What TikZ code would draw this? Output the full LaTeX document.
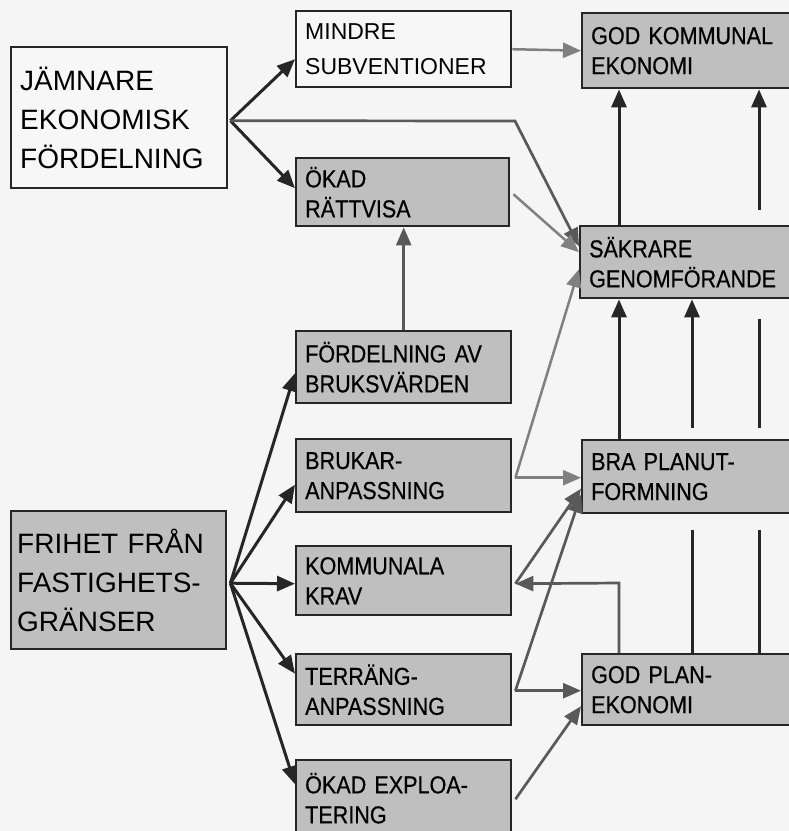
\documentclass[tikz,border=0pt]{standalone}
\usepackage{fontspec}
\setmainfont{Liberation Sans}
\newfontfamily\condfont[FakeStretch=0.88,FakeBold=0.5]{Liberation Sans}
\usetikzlibrary{arrows.meta,calc}
\begin{document}
\begin{tikzpicture}[x=1pt,y=-1pt,
  basebox/.style={draw=black!85, line width=2.4pt, anchor=north west, align=left,
                  inner xsep=9pt, inner ysep=0pt},
  plainbox/.style={basebox, fill=black!3},
  shadebox/.style={basebox, fill=black!25},
  smalltext/.style={font=\fontsize{23}{35}\selectfont, text width=197pt},
  condtext/.style={font=\condfont\fontsize{24.5}{30}\selectfont, text width=197pt},
  largetext/.style={font=\fontsize{28}{39}\selectfont},
  link/.style={line width=3pt, draw=black!85, -{Triangle[length=18pt,width=15pt]}},
  midlink/.style={link, line width=2.7pt, draw=black!65},
  lightlink/.style={link, line width=2.5pt, draw=black!50},
  bare/.style={line width=3pt, draw=black!85}
]
\clip (0,0) rectangle (789,831);
\fill[black!4] (0,0) rectangle (789,831);

% boxes
\node[plainbox, largetext, text width=198pt, minimum height=141pt] (jam) at (10,46)
  {JÄMNARE\\EKONOMISK\\FÖRDELNING};
\node[plainbox, smalltext, minimum height=76pt] (mindre) at (295,10) {MINDRE\\SUBVENTIONER};
\node[shadebox, condtext, text width=210pt, minimum height=75pt] (godk) at (581,12) {GOD KOMMUNAL\\EKONOMI};
\node[shadebox, condtext, text width=195pt, minimum height=68pt] (okad) at (295,157) {ÖKAD\\RÄTTVISA};
\node[shadebox, condtext, text width=210pt, minimum height=72pt] (sakr) at (579,225) {SÄKRARE\\GENOMFÖRANDE};
\node[shadebox, condtext, minimum height=72pt] (ford) at (295,330) {FÖRDELNING AV\\BRUKSVÄRDEN};
\node[shadebox, condtext, minimum height=73pt] (bruk) at (295,438) {BRUKAR-\\ANPASSNING};
\node[shadebox, condtext, text width=210pt, minimum height=73pt] (bra) at (581,439) {BRA PLANUT-\\FORMNING};
\node[shadebox, largetext, text width=203pt, inner xsep=6pt, minimum height=138pt] (frihet) at (10,510)
  {FRIHET FRÅN\\FASTIGHETS-\\GRÄNSER};
\node[shadebox, condtext, minimum height=69pt] (komm) at (295,545) {KOMMUNALA\\KRAV};
\node[shadebox, condtext, minimum height=71pt] (terr) at (295,653) {TERRÄNG-\\ANPASSNING};
\node[shadebox, condtext, text width=210pt, minimum height=71pt] (godp) at (581,653) {GOD PLAN-\\EKONOMI};
\node[shadebox, condtext, minimum height=76pt] (expl) at (295,759) {ÖKAD EXPLOA-\\TERING};

% junctions and columns
\coordinate (jj) at ($(jam.east)+(2,3)$);
\coordinate (bend) at (515,121);
\coordinate (fj) at ($(frihet.east)+(3,3)$);
\coordinate (bj) at ($(bruk.east)+(3,2)$);
\coordinate (tj) at ($(terr.east)+(3,1)$);
\coordinate (kj) at ($(komm.east)+(3,3)$);
\coordinate (colA) at (619,0);
\coordinate (colB) at (692,0);
\coordinate (colC) at (759,0);
\coordinate (ret) at (617,583);

% upper left group
\draw[link] (jj) -- ($(mindre.west)+(0,10)$);
\draw[link] (jj) -- ($(okad.west)+(0,-4)$);
\draw[midlink] (jj) -- (bend) -- ($(sakr.west)+(0,-16)$);
\draw[lightlink] ($(okad.east)+(3,2)$) -- ($(sakr.west)+(0,-10)$);
\draw[lightlink] (mindre.east) -- (godk.west);
\draw[midlink] (ford.north) -- (okad.south -| ford.north);

% from FRIHET
\draw[link] (fj) -- ($(ford.west)+(0,6)$);
\draw[link] (fj) -- ($(bruk.west)+(0,9)$);
\draw[link] (fj) -- ($(komm.west)+(0,3)$);
\draw[link] (fj) -- ($(terr.west)+(0,-16)$);
\draw[link] (fj) -- ($(expl.west)+(0,-14)$);

% middle column to right column
\draw[lightlink] (bj) -- (bra.west |- bj);
\draw[lightlink] (bj) -- ($(sakr.west)+(0,7)$);
\draw[midlink] (kj) -- ($(bra.west)+(0,12)$);
\draw[midlink] (tj) -- ($(bra.west)+(0,18)$);
\draw[midlink] (tj) -- (godp.west |- tj);
\draw[midlink] ($(expl.east)+(3,1)$) -- ($(godp.west)+(0,16.5)$);
\draw[midlink] (colA |- godp.north) -- (colA |- ret) -- (kj);

% right column verticals
\draw[link] (colA |- sakr.north) -- (colA |- godk.south);
\draw[link] (colA |- bra.north) -- (colA |- sakr.south);
\draw[bare] (colB |- godp.north) -- ($(colB |- bra.south)+(0,16)$);
\draw[link] ($(colB |- bra.north)+(0,-11)$) -- (colB |- sakr.south);
\draw[bare] (colC |- godp.north) -- ($(colC |- bra.south)+(0,16)$);
\draw[bare] ($(colC |- bra.north)+(0,-11)$) -- ($(colC |- sakr.south)+(0,20)$);
\draw[link] ($(colC |- sakr.north)+(0,-15)$) -- (colC |- godk.south);
\end{tikzpicture}
\end{document}
